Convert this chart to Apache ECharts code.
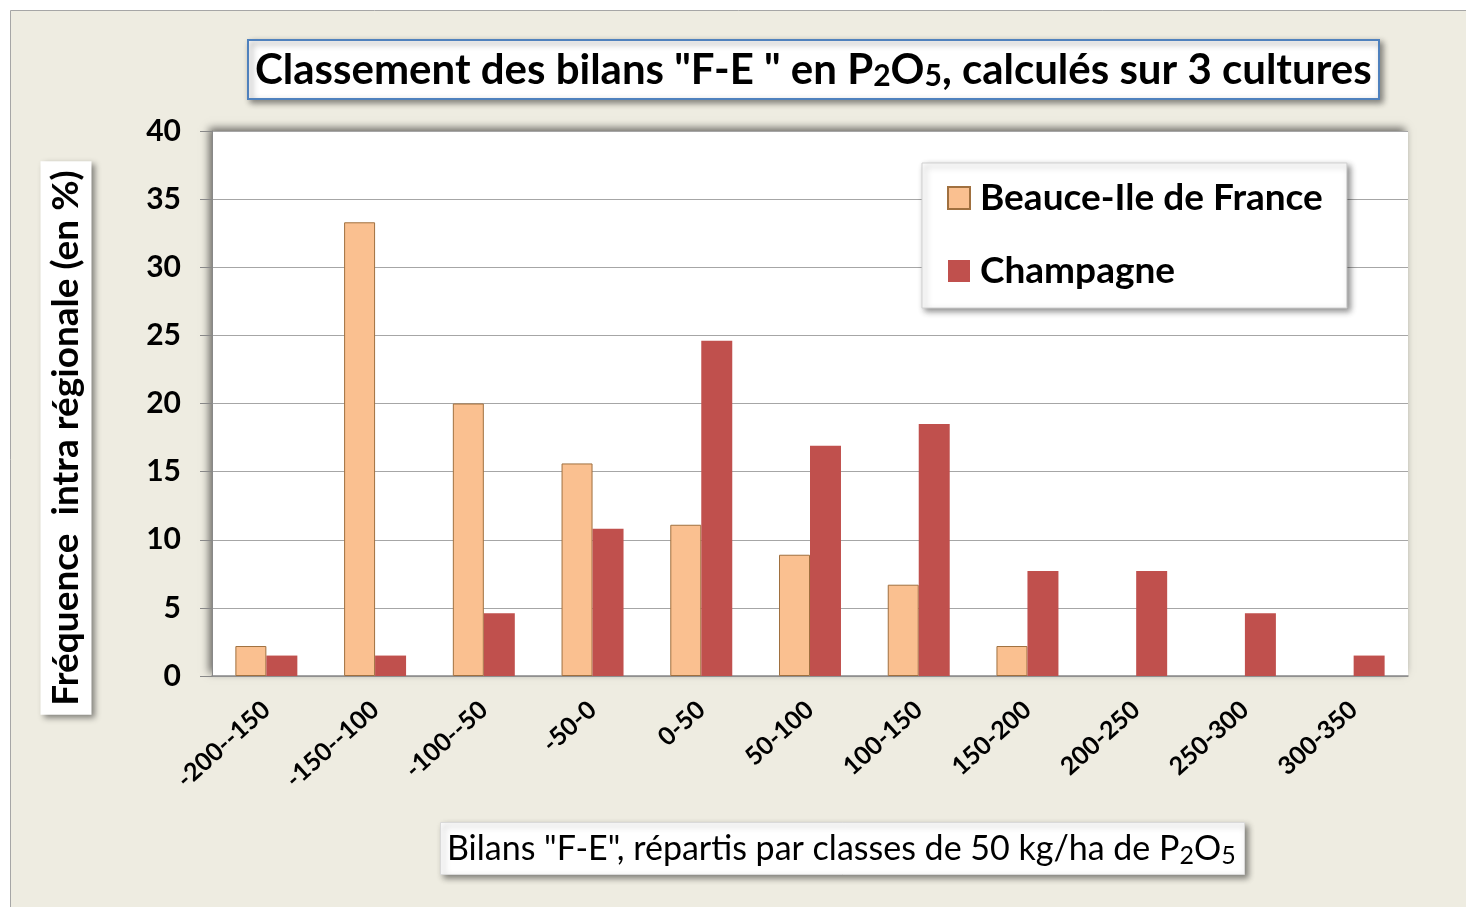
<!DOCTYPE html>
<html>
<head>
<meta charset="utf-8">
<script src="https://cdn.jsdelivr.net/npm/echarts@6/dist/echarts.min.js"></script>
<style>
  html, body { margin: 0; padding: 0; background: #fff; }
  #chart { width: 1466px; height: 907px; }
</style>
</head>
<body>
<div id="chart"></div>
<script>
// classes de bilan "F-E" (kg/ha de P2O5)
const categories = ['-200--150', '-150--100', '-100--50', '-50-0', '0-50', '50-100',
  '100-150', '150-200', '200-250', '250-300', '300-350']
// fréquence intra régionale (%)
const beauce = [2.2, 33.3, 20.0, 15.6, 11.1, 8.9, 6.7, 2.2, 0, 0, 0]
const champagne = [1.5, 1.5, 4.6, 10.8, 24.6, 16.9, 18.5, 7.7, 7.7, 4.6, 1.5]
const yTicks = { min: 0, max: 40, interval: 5 }

const font = 'Lato'
const boxShadow = {
  shadowColor: 'rgba(0,0,0,0.45)',
  shadowBlur: 6,
  shadowOffsetX: 3,
  shadowOffsetY: 3
}
const sub = { fontWeight: 'bold', fontFamily: font, color: '#000', verticalAlign: 'bottom', padding: [0, 0, 2, 0] }

// pas de bordure sur les barres nulles
const noBorderOnZero = arr => arr.map(v => (v === 0 ? { value: v, itemStyle: { borderWidth: 0 } } : v))

const chart = echarts.init(document.getElementById('chart'))

chart.setOption({
  animation: false,
  textStyle: { fontFamily: font },
  title: [
    {
      text: 'Classement des bilans "F-E " en P{s|2}O{s|5}, calculés sur 3 cultures',
      left: 248,
      top: 40,
      padding: [7, 8, 6, 7],
      backgroundColor: '#fff',
      borderColor: '#4F81BD',
      borderWidth: 2,
      ...boxShadow,
      textStyle: {
        fontFamily: font,
        fontSize: 42,
        fontWeight: 'bold',
        color: '#000',
        lineHeight: 46,
        rich: { s: { ...sub, fontSize: 30, lineHeight: 46 } }
      }
    },
    {
      text: 'Bilans "F-E", répartis par classes de 50 kg/ha de P{s|2}O{s|5}',
      left: 440,
      top: 822,
      padding: [6, 9, 5, 7],
      backgroundColor: '#fff',
      borderColor: '#D9D9D9',
      borderWidth: 1,
      ...boxShadow,
      textStyle: {
        fontFamily: font,
        fontSize: 34,
        fontWeight: 'normal',
        color: '#000',
        lineHeight: 42,
        rich: { s: { ...sub, fontSize: 25, fontWeight: 'normal', lineHeight: 42 } }
      }
    }
  ],
  graphic: [
    {
      type: 'rect',
      z: -10,
      silent: true,
      shape: { x: 10.5, y: 10.5, width: 1480, height: 920 },
      style: { fill: '#EEECE1', stroke: '#A6A6A6', lineWidth: 1 }
    },
    {
      type: 'text',
      x: 66,
      y: 438,
      rotation: Math.PI / 2,
      style: {
        text: 'Fréquence  intra régionale (en %)',
        fontFamily: font,
        fontSize: 37,
        fontWeight: 'bold',
        fill: '#000',
        align: 'center',
        verticalAlign: 'middle',
        backgroundColor: '#fff',
        padding: [8, 9, 6, 9],
        ...boxShadow
      }
    }
  ],
  legend: {
    orient: 'vertical',
    left: 922,
    top: 163,
    padding: [15, 24, 17, 25],
    itemGap: 33,
    itemWidth: 22,
    itemHeight: 22,
    icon: 'rect',
    backgroundColor: '#fff',
    borderColor: '#D0D0D0',
    borderWidth: 1,
    ...boxShadow,
    textStyle: {
      fontFamily: font,
      fontSize: 37,
      fontWeight: 'bold',
      color: '#000',
      lineHeight: 40,
      padding: [0, 0, 0, 5]
    }
  },
  grid: {
    left: 212,
    right: 58,
    top: 131,
    bottom: 231,
    show: true,
    backgroundColor: '#fff',
    borderWidth: 0,
    shadowColor: 'rgba(0,0,0,0.55)',
    shadowBlur: 8,
    shadowOffsetX: -3,
    shadowOffsetY: -3
  },
  xAxis: {
    type: 'category',
    data: categories,
    axisLine: { lineStyle: { color: '#888', width: 1.5 } },
    axisTick: { show: false },
    axisLabel: {
      rotate: 42,
      interval: 0,
      margin: 30,
      fontFamily: font,
      fontSize: 25,
      fontWeight: 'bold',
      color: '#000'
    }
  },
  yAxis: {
    type: 'value',
    ...yTicks,
    axisLine: { show: true, lineStyle: { color: '#888' } },
    axisTick: { show: true, length: 12, lineStyle: { color: '#888' } },
    splitLine: { lineStyle: { color: '#A6A6A6', width: 1 } },
    axisLabel: {
      margin: 31,
      fontFamily: font,
      fontSize: 30,
      fontWeight: 'bold',
      color: '#000'
    }
  },
  series: [
    {
      name: 'Beauce-Ile de France',
      type: 'bar',
      data: noBorderOnZero(beauce),
      barGap: '0%',
      barCategoryGap: '43%',
      itemStyle: { color: '#FAC090', borderColor: '#A0703F', borderWidth: 1 }
    },
    {
      name: 'Champagne',
      type: 'bar',
      data: champagne,
      itemStyle: { color: '#C0504D' }
    }
  ]
})
</script>
</body>
</html>
